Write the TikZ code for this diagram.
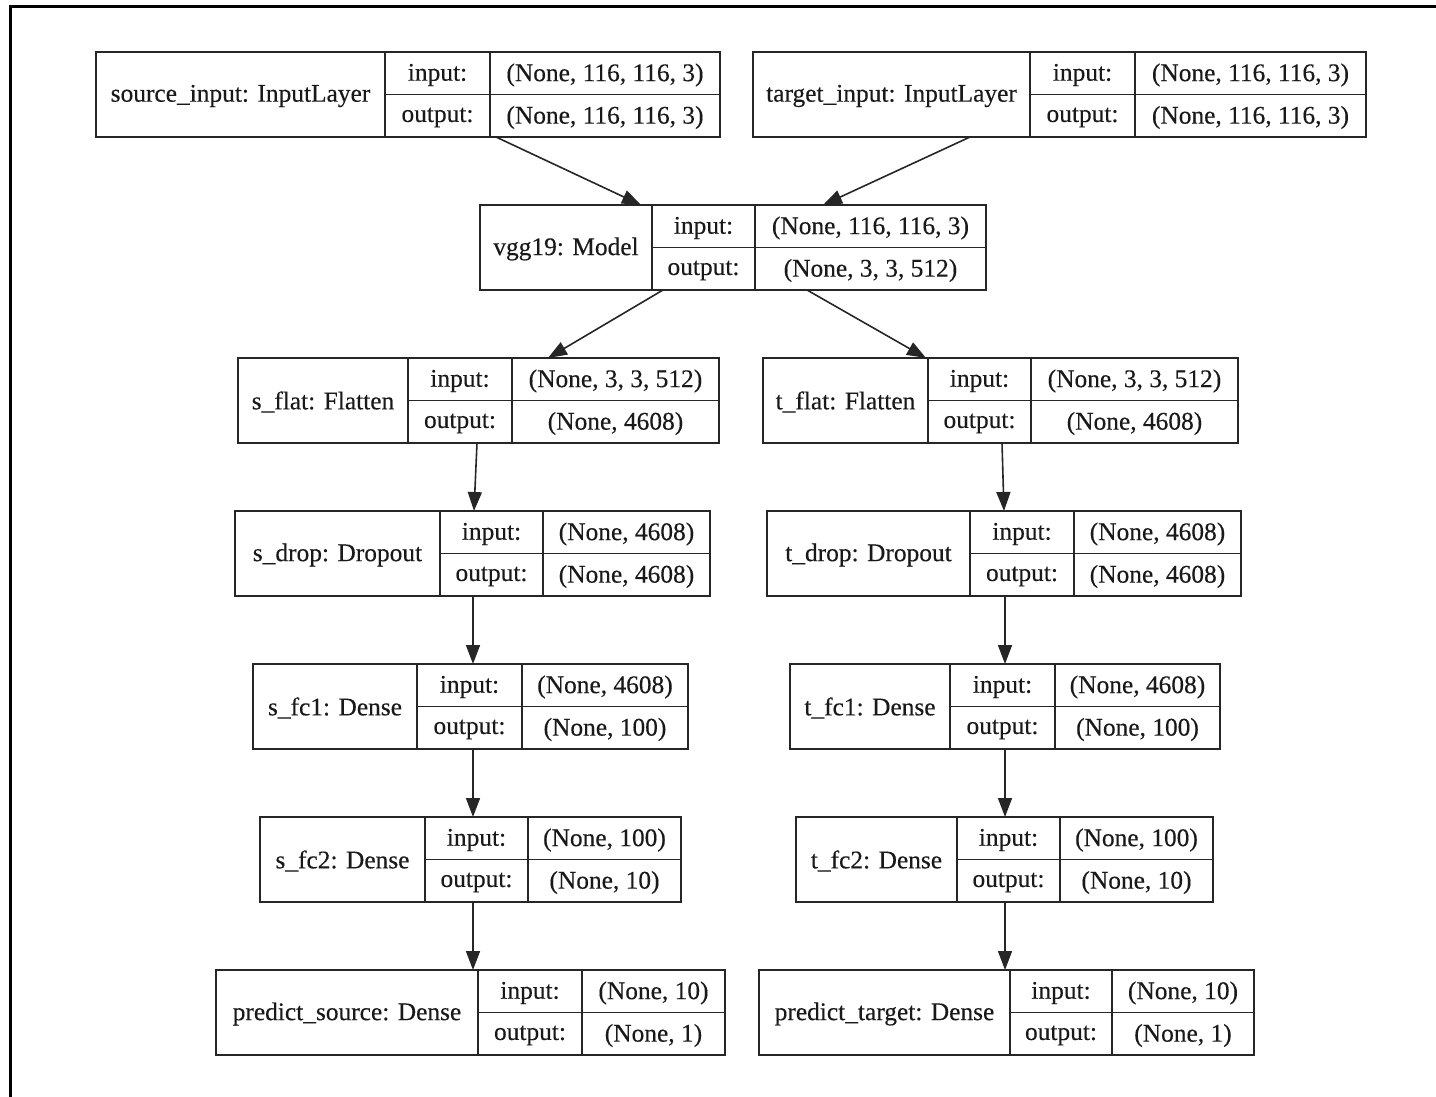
\documentclass[tikz,border=0pt]{standalone}
\usepackage{fontspec}
\setmainfont{Liberation Serif}[FakeBold=0.3]
\usetikzlibrary{arrows.meta,calc,fit}

\tikzset{
  boxframe/.style={draw=black!85, line width=1.8pt, inner sep=0pt, outer sep=0pt},
  divider/.style={draw=black!85, line width=1.8pt},
  lbl/.style={inner sep=0pt, font=\fontsize{25.4}{30}\selectfont, text=black!90},
  flow/.style={draw=black!85, line width=1.6pt, -{Triangle[length=19pt,width=14pt]}},
  frame/.style={draw=black, line width=3pt},
}

% layer record: name, left, name|label divider, label|value divider, right, top, title, input shape, output shape
\newcommand\kbox[9]{%
  \node[boxframe, fit={(#2,#6) (#5,#6+85)}] (#1) {};
  \draw[divider] (#3,#6) -- (#3,#6+85) (#4,#6) -- (#4,#6+85) (#3,#6+42.5) -- (#5,#6+42.5);
  \node[lbl] at ({(#2+#3)/2},#6+44) {#7};
  \node[lbl] at ({(#3+#4)/2},#6+23) {input:};
  \node[lbl] at ({(#3+#4)/2},#6+65.5) {output:};
  \node[lbl] at ({(#4+#5)/2},#6+23) {#8};
  \node[lbl] at ({(#4+#5)/2},#6+65.5) {#9};
}

\begin{document}
\begin{tikzpicture}[x=1pt, y=-1pt]
\useasboundingbox (0,0) rectangle (1436,1096);
\draw[frame] (10,1100) -- (10,6) -- (1440,6);

\kbox{src}{96}{385}{490}{720}{52}{source\_input: InputLayer}{(None, 116, 116, 3)}{(None, 116, 116, 3)}
\kbox{tgt}{753}{1030}{1135}{1366}{52}{target\_input: InputLayer}{(None, 116, 116, 3)}{(None, 116, 116, 3)}
\kbox{vgg}{480}{652}{755}{986}{205}{vgg19: Model}{(None, 116, 116, 3)}{(None, 3, 3, 512)}
\kbox{sflat}{238}{408}{512}{719}{358}{s\_flat: Flatten}{(None, 3, 3, 512)}{(None, 4608)}
\kbox{tflat}{763}{928}{1031}{1238}{358}{t\_flat: Flatten}{(None, 3, 3, 512)}{(None, 4608)}
\kbox{sdrop}{235}{440}{543}{710}{511}{s\_drop: Dropout}{(None, 4608)}{(None, 4608)}
\kbox{tdrop}{767}{970}{1074}{1241}{511}{t\_drop: Dropout}{(None, 4608)}{(None, 4608)}
\kbox{sfcone}{253}{417}{522}{688}{664}{s\_fc1: Dense}{(None, 4608)}{(None, 100)}
\kbox{tfcone}{790}{950}{1055}{1220}{664}{t\_fc1: Dense}{(None, 4608)}{(None, 100)}
\kbox{sfctwo}{260}{425}{528}{681}{817}{s\_fc2: Dense}{(None, 100)}{(None, 10)}
\kbox{tfctwo}{796}{957}{1060}{1213}{817}{t\_fc2: Dense}{(None, 100)}{(None, 10)}
\kbox{psrc}{216}{478}{582}{725}{970}{predict\_source: Dense}{(None, 10)}{(None, 1)}
\kbox{ptgt}{759}{1010}{1112}{1254}{970}{predict\_target: Dense}{(None, 10)}{(None, 1)}

% inputs into the shared backbone
\draw[flow] ($(src.south west)+(400,0)$) -- ($(vgg.north west)+(161,0)$);
\draw[flow] ($(tgt.south west)+(217,0)$) -- ($(vgg.north west)+(343,0)$);
% backbone into the two branches
\draw[flow] ($(vgg.south west)+(183,0)$) -- ($(sflat.north west)+(310,0)$);
\draw[flow] ($(vgg.south west)+(327,0)$) -- ($(tflat.north west)+(163,0)$);
% source branch
\draw[flow] ($(sflat.south west)+(239,0)$) -- ($(sdrop.north west)+(239,0)$);
\draw[flow] ($(sdrop.south west)+(238,0)$) -- ($(sfcone.north west)+(220,0)$);
\draw[flow] ($(sfcone.south west)+(220,0)$) -- ($(sfctwo.north west)+(213,0)$);
\draw[flow] ($(sfctwo.south west)+(213,0)$) -- ($(psrc.north west)+(257,0)$);
% target branch
\draw[flow] ($(tflat.south west)+(239,0)$) -- ($(tdrop.north west)+(237,0)$);
\draw[flow] ($(tdrop.south west)+(238,0)$) -- ($(tfcone.north west)+(215,0)$);
\draw[flow] ($(tfcone.south west)+(215,0)$) -- ($(tfctwo.north west)+(209,0)$);
\draw[flow] ($(tfctwo.south west)+(209,0)$) -- ($(ptgt.north west)+(246,0)$);
\end{tikzpicture}
\end{document}
